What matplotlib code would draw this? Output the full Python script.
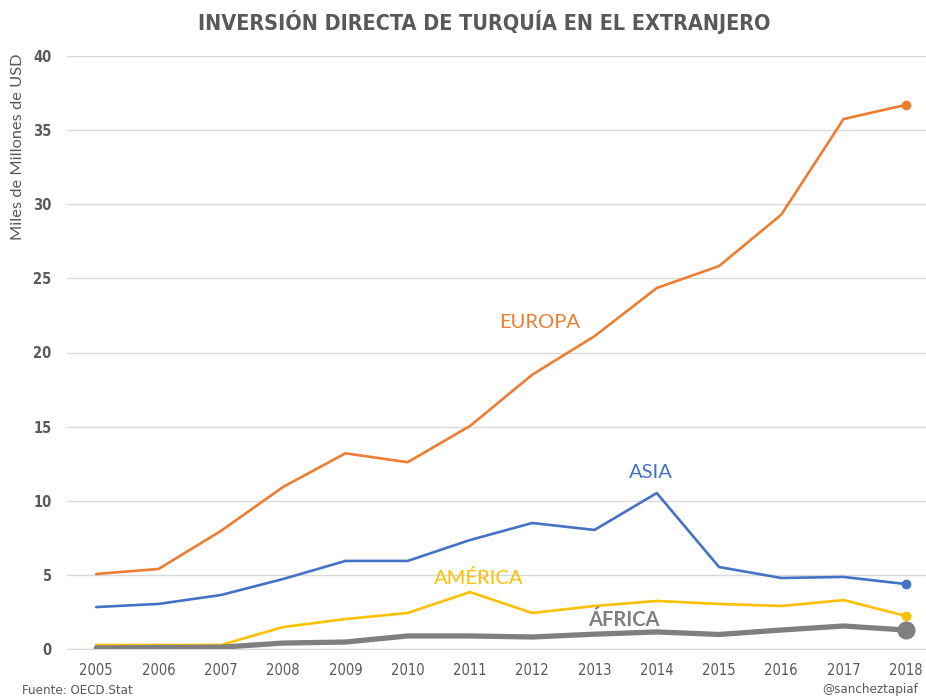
import matplotlib
matplotlib.use("Agg")
import matplotlib.pyplot as plt

years = list(range(2005, 2019))
europa = [5.06, 5.4, 7.96, 10.93, 13.2, 12.6, 15.04, 18.5, 21.1, 24.35, 25.83, 29.3, 35.75, 36.7]
asia = [2.83, 3.04, 3.64, 4.72, 5.94, 5.94, 7.35, 8.5, 8.03, 10.52, 5.53, 4.79, 4.86, 4.38]
america = [0.27, 0.27, 0.27, 1.48, 2.02, 2.43, 3.84, 2.43, 2.9, 3.24, 3.04, 2.9, 3.3, 2.23]
africa = [0.07, 0.1, 0.12, 0.4, 0.47, 0.88, 0.88, 0.81, 1.0, 1.15, 0.98, 1.28, 1.55, 1.28]
yticks = [0, 5, 10, 15, 20, 25, 30, 35, 40]

C_EU = "#ED7D31"
C_AS = "#4472C4"
C_AM = "#FFC000"
C_AF = "#7F7F7F"
GREY = "#595959"
cond = dict(family="DejaVu Sans", stretch="condensed")
body = ["Lato", "DejaVu Sans"]

fig = plt.figure(figsize=(9.26, 6.97), dpi=100)
ax = fig.add_axes([67/926, (697-649)/697, (937-67)/926, (649-56)/697])

ax.plot(years, europa, color=C_EU, lw=1.9, solid_capstyle="round")
ax.plot(years, asia, color=C_AS, lw=1.9, solid_capstyle="round")
ax.plot(years, america, color=C_AM, lw=1.9, solid_capstyle="round")
ax.plot(years, africa, color=C_AF, lw=3.8, solid_capstyle="round")
ax.plot(years[-1], europa[-1], "o", color=C_EU, ms=6)
ax.plot(years[-1], asia[-1], "o", color=C_AS, ms=6)
ax.plot(years[-1], america[-1], "o", color=C_AM, ms=6)
ax.plot(years[-1], africa[-1], "o", color=C_AF, ms=12)

ax.set_xlim(2004.53, 2018.5)
ax.set_ylim(0, 40)
ax.set_yticks(yticks)
ax.set_xticks(years)
ax.grid(axis="y", color="#D9D9D9", lw=1)
ax.set_axisbelow(True)
for s in ["top", "right", "left"]:
    ax.spines[s].set_visible(False)
ax.spines["bottom"].set_color("#D9D9D9")
ax.tick_params(axis="both", length=0, colors=GREY, labelsize=10.5)
ax.tick_params(axis="y", pad=11)
ax.tick_params(axis="x", pad=10)
for lab in ax.get_xticklabels() + ax.get_yticklabels():
    lab.set_fontfamily("DejaVu Sans")
    lab.set_fontstretch("condensed")
for lab in ax.get_yticklabels():
    lab.set_fontweight("bold")

ax.text(2012.12, 22.0, "EUROPA", color=C_EU, fontsize=14.5, family=body, ha="center", va="center")
ax.text(2013.9, 11.9, "ASIA", color=C_AS, fontsize=14.5, family=body, ha="center", va="center")
ax.text(2011.14, 4.8, "AMÉRICA", color=C_AM, fontsize=14.5, family=body, ha="center", va="center")
ax.text(2013.47, 1.96, "ÁFRICA", color=C_AF, fontsize=14.5, family=body, fontweight="bold", ha="center", va="center")

fig.text(484/926, 1-22/697, "INVERSIÓN DIRECTA DE TURQUÍA EN EL EXTRANJERO", color=GREY,
         fontsize=15.5, fontweight="bold", ha="center", va="center", **cond)
fig.text(18/926, 1-147/697, "Miles de Millones de USD", color=GREY, fontsize=11.8, family=body,
         rotation=90, ha="center", va="center")
fig.text(22/926, 1-690/697, "Fuente: OECD.Stat", color=GREY, fontsize=9.5, ha="left", va="center", **cond)
fig.text(918/926, 1-690/697, "@sancheztapiaf", color=GREY, fontsize=9.5, ha="right", va="center", **cond)

fig.savefig("out.png", dpi=100, facecolor="white")
